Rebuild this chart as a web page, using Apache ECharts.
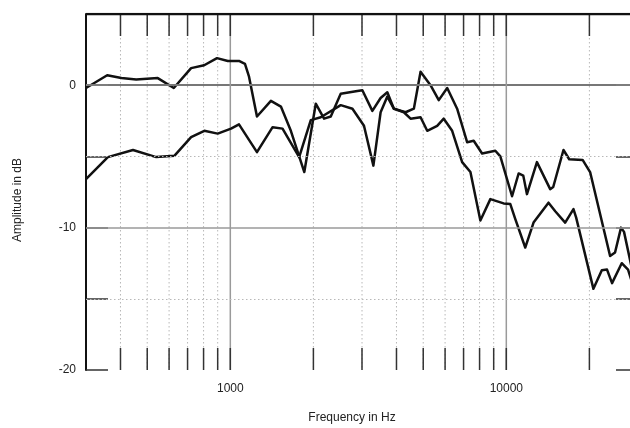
<!DOCTYPE html>
<html>
<head>
<meta charset="utf-8">
<script src="https://cdn.jsdelivr.net/npm/echarts@6/dist/echarts.min.js"></script>
<style>
  html, body { margin: 0; padding: 0; background: #fff; }
  #chart { width: 630px; height: 428px; }
</style>
</head>
<body>
<div id="chart"></div>
<script>
// Frequency response: two measurement traces (Hz, dB)
const freqUpper = [300, 358, 403, 456, 546, 624, 721, 804, 895, 979, 1075, 1130, 1169, 1249, 1403, 1525, 1657, 1854, 2040, 2186, 2312, 2512, 2887, 3009, 3271, 3504, 3706, 3913, 4315, 4624, 4890, 5313, 5692, 6107, 6634, 7211, 7617, 8171, 9124, 9513, 10490, 11080, 11520, 11880, 12910, 14420, 14790, 16110, 16900, 18900, 20120, 23770, 24770, 26040, 26700, 28600];
const dbUpper = [-0.2, 0.7, 0.5, 0.4, 0.5, -0.2, 1.2, 1.4, 1.9, 1.7, 1.7, 1.5, 0.6, -2.2, -1.1, -1.5, -3.2, -6.1, -1.3, -2.35, -2.2, -0.6, -0.4, -0.35, -1.8, -0.9, -0.5, -1.65, -1.9, -1.65, 0.95, 0, -1.05, -0.2, -1.65, -4.0, -3.9, -4.8, -4.6, -5.0, -7.8, -6.2, -6.35, -7.65, -5.4, -7.3, -7.15, -4.55, -5.2, -5.25, -6.1, -12.0, -11.75, -10.0, -10.3, -13.0];

const freqLower = [300, 360, 444, 539, 628, 721, 805, 900, 1006, 1075, 1249, 1423, 1546, 1776, 1957, 2127, 2512, 2770, 3050, 3299, 3504, 3706, 3913, 4254, 4499, 4890, 5169, 5617, 5933, 6365, 6918, 7412, 8054, 8754, 9778, 10340, 10780, 11710, 12550, 14220, 15040, 16340, 17510, 17910, 20680, 22180, 23170, 24160, 26190, 27610, 28600];
const dbLower = [-6.6, -5.05, -4.55, -5.05, -4.95, -3.65, -3.2, -3.4, -3.05, -2.75, -4.7, -2.95, -3.05, -5.05, -2.45, -2.25, -1.4, -1.65, -2.85, -5.65, -1.9, -0.8, -1.65, -1.9, -2.35, -2.25, -3.2, -2.85, -2.35, -3.2, -5.4, -6.1, -9.5, -8.0, -8.3, -8.35, -9.4, -11.4, -9.65, -8.25, -8.85, -9.65, -8.7, -9.3, -14.3, -13.0, -12.95, -13.9, -12.5, -12.95, -13.9];

// Axis ranges and gridline positions
const freqMin = 300, freqMax = 30000;
const dbMin = -20, dbMax = 5, dbStep = 5;
const gridFreqs = [400, 500, 600, 700, 800, 900, 1000, 2000, 3000, 4000, 5000, 6000, 7000, 8000, 9000, 10000, 20000];
const decadeFreqs = [1000, 10000];
const solidDb = [0, -10];
const dottedDb = [-5, -15];

const zip = (xs, ys) => xs.map((x, i) => [x, ys[i]]);
const FONT = '"Liberation Sans", Arial, Helvetica, sans-serif';
const TICK_LEN = 22;

const chart = echarts.init(document.getElementById('chart'));

chart.setOption({
  backgroundColor: '#ffffff',
  animation: false,
  // the plot area runs a little past the right edge of the page
  grid: { left: 86, top: 14, height: 356, width: 552, show: false,
          containLabel: false, outerBoundsMode: 'none' },
  xAxis: {
    type: 'log', logBase: 10, min: freqMin, max: freqMax,
    name: 'Frequency in Hz', nameLocation: 'middle', nameGap: 42,
    nameTextStyle: { fontFamily: FONT, fontSize: 12, color: '#222', padding: [0, 20, 0, 0] },
    axisLine: { show: true, lineStyle: { color: '#111', width: 2 } },
    axisTick: { show: false },
    axisLabel: { fontFamily: FONT, fontSize: 12, color: '#222', margin: 13,
      formatter: v => (v === 1000 || v === 10000) ? String(v) : '' },
    splitLine: { show: false }, minorTick: { show: false }
  },
  yAxis: [{
    type: 'value', min: dbMin, max: dbMax, interval: dbStep, position: 'left',
    name: 'Amplitude in dB', nameLocation: 'middle', nameGap: 62, nameRotate: 90,
    nameTextStyle: { fontFamily: FONT, fontSize: 12, color: '#222', padding: [0, 16, 0, 0] },
    axisLine: { show: true, lineStyle: { color: '#111', width: 2 } },
    axisTick: { show: true, inside: true, length: TICK_LEN, lineStyle: { color: '#333', width: 1.5 } },
    axisLabel: { fontFamily: FONT, fontSize: 12, color: '#222', margin: 10,
      formatter: v => (v % 10 === 0 && v <= 0) ? String(v) : '' },
    splitLine: { show: false }
  }, {
    type: 'value', min: dbMin, max: dbMax, interval: dbStep, position: 'right',
    axisLine: { show: true, lineStyle: { color: '#111', width: 2 } },
    axisTick: { show: true, inside: true, length: TICK_LEN, lineStyle: { color: '#333', width: 1.5 } },
    axisLabel: { show: false }, splitLine: { show: false }
  }],
  series: [
    {
      // vertical gridlines plus inward ticks on top and bottom frame
      type: 'custom', z: 1, silent: true,
      data: gridFreqs.map(f => [f]),
      encode: { x: 0 },
      renderItem: (params, api) => {
        const f = api.value(0);
        const top = api.coord([f, dbMax]);
        const bot = api.coord([f, dbMin]);
        const major = decadeFreqs.includes(f);
        return {
          type: 'group',
          children: [
            { type: 'line', shape: { x1: top[0], y1: top[1], x2: bot[0], y2: bot[1] },
              style: major ? { stroke: '#9a9a9a', lineWidth: 1.5 }
                           : { stroke: '#b8b8b8', lineWidth: 1, lineDash: [1.5, 2.5] } },
            { type: 'line', shape: { x1: top[0], y1: top[1], x2: top[0], y2: top[1] + TICK_LEN },
              style: { stroke: '#333', lineWidth: 1.5 } },
            { type: 'line', shape: { x1: bot[0], y1: bot[1], x2: bot[0], y2: bot[1] - TICK_LEN },
              style: { stroke: '#333', lineWidth: 1.5 } }
          ]
        };
      },
      markLine: {
        silent: true, symbol: 'none', label: { show: false },
        data: solidDb.map(v => ({ yAxis: v, lineStyle: { color: '#9a9a9a', width: 1.5, type: 'solid' } }))
          .concat(dottedDb.map(v => ({ yAxis: v, lineStyle: { color: '#b8b8b8', width: 1, type: [1.5, 2.5] } })))
      }
    },
    {
      // top frame line
      type: 'line', z: 4, silent: true, symbol: 'none',
      data: [[freqMin, dbMax], [freqMax, dbMax]],
      lineStyle: { color: '#111', width: 2.5 }
    },
    {
      type: 'line', z: 3, name: 'upper', symbol: 'none', smooth: false,
      data: zip(freqUpper, dbUpper),
      lineStyle: { color: '#111', width: 2.5, join: 'round' }
    },
    {
      type: 'line', z: 3, name: 'lower', symbol: 'none', smooth: false,
      data: zip(freqLower, dbLower),
      lineStyle: { color: '#111', width: 2.5, join: 'round' }
    }
  ]
});
</script>
</body>
</html>
